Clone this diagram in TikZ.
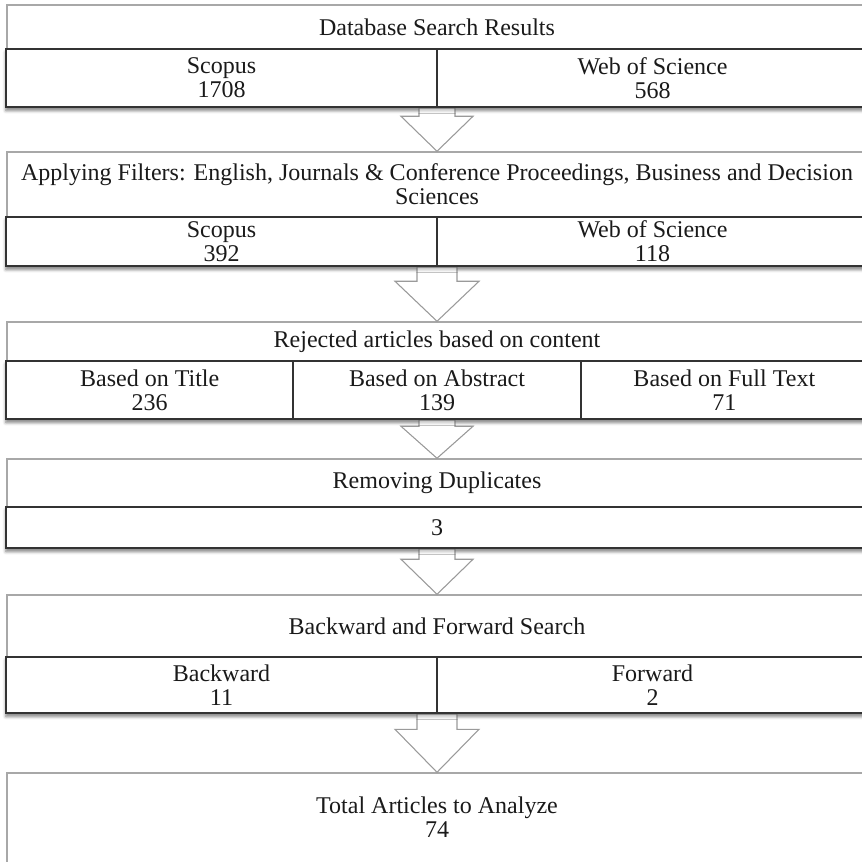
\documentclass[tikz,border=0pt]{standalone}
\usepackage{fontspec}
\setmainfont{Liberation Serif}
\usetikzlibrary{calc,fit,shadows.blur}
\definecolor{outergray}{HTML}{A8A8A8}
\definecolor{innerdark}{HTML}{333333}
\definecolor{arrowgray}{HTML}{9A9A9A}
\definecolor{txtcol}{HTML}{1A1A1A}
\newcommand{\blockarrow}[5]{% #1 from, #2 to, #3 shaft half width, #4 head half width, #5 head height
  \draw[barrow] ($(#1)+(-#3,0)$) -- ($(#1)+(#3,0)$) -- ($(#2)+(#3,-#5)$) -- ($(#2)+(#4,-#5)$)
    -- (#2) -- ($(#2)+(-#4,-#5)$) -- ($(#2)+(-#3,-#5)$) -- cycle;}
\begin{document}
\begin{tikzpicture}[x=0.75pt,y=-0.75pt,
  outerbox/.style={draw=outergray, line width=1.1pt, fill=white, inner sep=0pt},
  innerbox/.style={draw=innerdark, line width=1.5pt, fill=white, inner sep=0pt,
    blur shadow={shadow xshift=0pt, shadow yshift=-2.5pt, shadow blur radius=2.5pt, shadow opacity=30}},
  innerline/.style={draw=innerdark, line width=1.5pt},
  barrow/.style={draw=arrowgray, line width=0.8pt, fill=white, line join=miter},
  txt/.style={align=center, inner sep=0pt, text=txtcol, font=\fontsize{18pt}{18pt}\selectfont}]
\useasboundingbox (0,0) rectangle (862,861);
\clip (0,0) rectangle (862,861);

% outer boxes
\node[outerbox, fit={(7,5)(867,107)}] (o1) {};
\node[outerbox, fit={(7,152)(867,266)}] (o2) {};
\node[outerbox, fit={(7,322)(867,419)}] (o3) {};
\node[outerbox, fit={(7,459)(867,548)}] (o4) {};
\node[outerbox, fit={(7,595)(867,713)}] (o5) {};
\node[outerbox, fit={(7,773)(867,866)}] (o6) {};

% inner boxes
\node[innerbox, fit={(6,49)(868,107)}] (in1) {};
\node[innerbox, fit={(6,217)(868,266)}] (in2) {};
\node[innerbox, fit={(6,361)(868,419)}] (in3) {};
\node[innerbox, fit={(6,507)(868,548)}] (in4) {};
\node[innerbox, fit={(6,657)(868,713)}] (in5) {};

% arrows
\blockarrow{in1.south}{o2.north}{18}{36}{35}
\blockarrow{in2.south}{o3.north}{20}{42}{40}
\blockarrow{in3.south}{o4.north}{18}{36}{32}
\blockarrow{in4.south}{o5.north}{18}{36}{35}
\blockarrow{in5.south}{o6.north}{20}{42}{43}

% redraw inner boxes on top of arrow shafts
\node[innerbox, fit={(6,49)(868,107)}] (in1b) {};
\node[innerbox, fit={(6,217)(868,266)}] (in2b) {};
\node[innerbox, fit={(6,361)(868,419)}] (in3b) {};
\node[innerbox, fit={(6,507)(868,548)}] (in4b) {};
\node[innerbox, fit={(6,657)(868,713)}] (in5b) {};

% dividers
\draw[innerline] (in1b.north) -- (in1b.south);
\draw[innerline] (in2b.north) -- (in2b.south);
\draw[innerline] ($(in3b.north west)!1/3!(in3b.north east)$) -- ($(in3b.south west)!1/3!(in3b.south east)$);
\draw[innerline] ($(in3b.north west)!2/3!(in3b.north east)$) -- ($(in3b.south west)!2/3!(in3b.south east)$);
\draw[innerline] (in5b.north) -- (in5b.south);

% texts
\node[txt] (t1) at (437,27) {Database Search Results};
\node[txt] (t1a) at (221.5,78) {Scopus\\1708};
\node[txt] (t1b) at (652.5,78) {Web of Science\\568};

\node[txt] (t2) at (437,184.5) {Applying Filters: English, Journals \& Conference Proceedings, Business and Decision\\Sciences};
\node[txt] (t2a) at (221.5,241.5) {Scopus\\392};
\node[txt] (t2b) at (652.5,241.5) {Web of Science\\118};

\node[txt] (t3) at (437,341.5) {Rejected articles based on content};
\node[txt] (t3a) at (149.7,390) {Based on Title\\236};
\node[txt] (t3b) at (437,390) {Based on Abstract\\139};
\node[txt] (t3c) at (724.3,390) {Based on Full Text\\71};

\node[txt] (t4) at (437,483) {Removing Duplicates};
\node[txt] (t4a) at (437,527.5) {3};

\node[txt] (t5) at (437,626) {Backward and Forward Search};
\node[txt] (t5a) at (221.5,685) {Backward\\11};
\node[txt] (t5b) at (652.5,685) {Forward\\2};

\node[txt] (t6) at (437,817) {Total Articles to Analyze\\74};
\end{tikzpicture}
\end{document}
